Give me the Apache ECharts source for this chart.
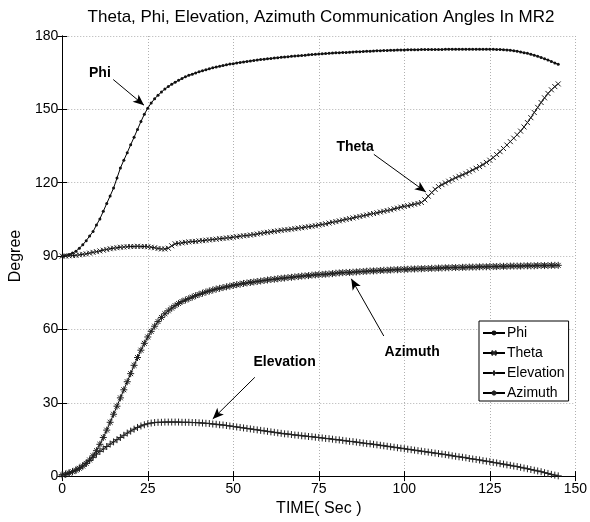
<!DOCTYPE html>
<html>
<head>
<meta charset="utf-8">
<script src="https://cdn.jsdelivr.net/npm/echarts@6/dist/echarts.min.js"></script>
<style>html,body{margin:0;padding:0;background:#fff;}#c{width:590px;height:522px;}</style>
</head>
<body>
<div id="c"></div>
<script>
// Sampling: one sample per second, starting at t = 0 s
const T_START = 0;
const T_STEP = 1;

const seriesNames = ['Phi', 'Theta', 'Elevation', 'Azimuth'];
const xTicks = [0, 25, 50, 75, 100, 125, 150];
const yTicks = [0, 30, 60, 90, 120, 150, 180];

const phi = [
90.0,90.2,90.6,91.2,92.0,93.2,94.6,96.3,98.2,100.0,
102.7,105.2,108.3,111.5,114.6,117.8,121.9,126.0,129.2,132.3,
135.5,138.6,141.8,145.0,148.0,150.5,152.6,154.3,155.8,157.1,
158.3,159.3,160.3,161.1,161.9,162.6,163.3,163.9,164.4,164.9,
165.4,165.8,166.2,166.6,167.0,167.3,167.6,167.9,168.2,168.5,
168.7,169.0,169.2,169.4,169.6,169.8,170.0,170.2,170.4,170.5,
170.7,170.8,171.0,171.1,171.3,171.4,171.5,171.7,171.8,171.9,
172.0,172.1,172.3,172.4,172.5,172.6,172.7,172.8,172.9,173.0,
173.1,173.2,173.3,173.3,173.4,173.5,173.6,173.6,173.7,173.8,
173.8,173.9,174.0,174.0,174.1,174.1,174.2,174.2,174.3,174.3,
174.3,174.4,174.4,174.4,174.4,174.5,174.5,174.5,174.5,174.5,
174.5,174.5,174.6,174.6,174.6,174.6,174.6,174.6,174.6,174.6,
174.6,174.6,174.6,174.6,174.6,174.6,174.6,174.5,174.5,174.4,
174.3,174.2,174.0,173.8,173.5,173.2,172.9,172.5,172.1,171.7,
171.2,170.7,170.2,169.6,169.0,168.4
];

const theta = [
90.0,90.0,90.1,90.2,90.3,90.5,90.7,90.9,91.2,91.5,
91.8,92.1,92.4,92.7,93.0,93.2,93.4,93.6,93.7,93.8,
93.9,93.9,94.0,93.9,93.9,93.8,93.6,93.4,93.1,92.9,
92.9,93.2,94.2,95.0,95.2,95.4,95.6,95.8,95.9,96.0,
96.2,96.3,96.5,96.6,96.8,96.9,97.1,97.2,97.4,97.5,
97.7,97.9,98.1,98.3,98.4,98.6,98.8,99.0,99.3,99.5,
99.7,99.9,100.1,100.3,100.5,100.7,100.8,101.0,101.2,101.4,
101.6,101.8,102.0,102.2,102.4,102.7,102.9,103.2,103.5,103.8,
104.1,104.4,104.7,105.0,105.3,105.6,105.9,106.2,106.5,106.8,
107.1,107.4,107.7,108.0,108.3,108.6,108.9,109.3,109.6,110.0,
110.3,110.6,110.9,111.2,111.5,111.9,113.0,114.5,116.0,117.3,
118.4,119.2,119.9,120.6,121.3,122.0,122.6,123.2,123.8,124.5,
125.2,125.9,126.6,127.4,128.3,129.2,130.3,131.5,132.7,134.0,
135.4,136.8,138.2,139.6,141.1,142.8,144.6,146.6,148.7,150.8,
152.8,154.7,156.5,158.0,159.3,160.4
];

const elevation = [
0.5,0.8,1.2,1.8,2.5,3.3,4.2,5.3,6.4,7.7,
9.0,10.1,11.1,12.1,13.1,14.0,14.9,15.8,16.7,17.6,
18.4,19.2,19.9,20.5,21.0,21.4,21.7,21.9,22.0,22.0,
22.1,22.1,22.1,22.1,22.1,22.0,22.0,22.0,21.9,21.9,
21.8,21.7,21.6,21.5,21.3,21.2,21.0,20.9,20.7,20.5,
20.3,20.1,19.9,19.7,19.5,19.3,19.1,18.9,18.7,18.5,
18.3,18.1,17.9,17.7,17.5,17.3,17.2,17.0,16.8,16.7,
16.5,16.4,16.2,16.1,15.9,15.8,15.6,15.4,15.3,15.1,
14.9,14.8,14.6,14.4,14.2,14.1,13.9,13.7,13.5,13.3,
13.2,13.0,12.8,12.6,12.4,12.2,12.0,11.8,11.6,11.4,
11.2,11.0,10.8,10.6,10.4,10.2,10.0,9.8,9.6,9.4,
9.2,9.0,8.8,8.6,8.3,8.1,7.9,7.7,7.5,7.2,
7.0,6.8,6.6,6.3,6.1,5.9,5.6,5.4,5.1,4.9,
4.6,4.4,4.1,3.9,3.6,3.3,3.0,2.7,2.4,2.1,
1.8,1.4,1.1,0.7,0.4,0.1
];

const azimuth = [
0.5,0.8,1.3,1.8,2.4,3.2,4.1,5.2,6.6,8.3,
10.4,13.0,15.8,18.8,22.0,25.3,28.6,32.0,35.3,38.6,
41.9,45.3,48.5,51.5,54.3,56.9,59.2,61.3,63.2,64.9,
66.4,67.6,68.7,69.7,70.6,71.4,72.0,72.6,73.2,73.8,
74.3,74.8,75.3,75.7,76.1,76.5,76.8,77.1,77.4,77.7,
78.0,78.3,78.5,78.8,79.0,79.2,79.4,79.6,79.8,80.0,
80.2,80.4,80.5,80.7,80.9,81.0,81.2,81.3,81.5,81.6,
81.8,81.9,82.0,82.2,82.3,82.4,82.5,82.6,82.7,82.8,
83.0,83.1,83.2,83.3,83.3,83.4,83.5,83.6,83.7,83.8,
83.9,83.9,84.0,84.1,84.2,84.2,84.3,84.4,84.4,84.5,
84.6,84.6,84.7,84.7,84.8,84.8,84.9,84.9,85.0,85.0,
85.1,85.1,85.2,85.2,85.3,85.3,85.3,85.4,85.4,85.5,
85.5,85.5,85.6,85.6,85.6,85.7,85.7,85.7,85.8,85.8,
85.8,85.9,85.9,85.9,85.9,86.0,86.0,86.0,86.0,86.1,
86.1,86.1,86.1,86.2,86.2,86.2
];

// Annotations (in data coordinates): label position, arrow tail, arrow head
const annotations = [
  {text: 'Phi',       label: [11.0, 165.0], from: [14.9, 162.2], to: [23.9, 151.7]},
  {text: 'Theta',     label: [85.6, 134.6], from: [91.1, 131.6], to: [106.3, 116.2]},
  {text: 'Azimuth',   label: [102.3, 50.6], from: [94.0, 57.3],  to: [84.5, 80.7]},
  {text: 'Elevation', label: [65.0, 46.6],  from: [56.3, 40.4],  to: [44.0, 23.4]}
];

function pairs(arr) {
  return arr.map((v, i) => [T_START + i * T_STEP, v]);
}

const FONT = 'Liberation Sans';
const symX = 'path://M0,0L10,10M10,0L0,10';
const symPlus = 'path://M5,0L5,10M0,5L10,5';
const symStar = 'path://M5,0L5,10M0,5L10,5M1.5,1.5L8.5,8.5M8.5,1.5L1.5,8.5';

const chart = echarts.init(document.getElementById('c'), null, {renderer: 'canvas'});

function mkSeries(name, arr, symbol, size, extra) {
  return Object.assign({
    name: name,
    type: 'line',
    data: pairs(arr),
    symbol: symbol,
    symbolSize: size,
    showSymbol: true,
    showAllSymbol: true,
    animation: false,
    lineStyle: {color: '#000', width: 1},
    itemStyle: {color: symbol === 'circle' ? '#111' : 'none', borderColor: '#222', borderWidth: symbol === 'circle' ? 0 : 1},
    emphasis: {disabled: true},
    z: 3
  }, extra || {});
}

const markLineData = annotations.map(a => [
  {coord: a.from, symbol: 'none'},
  {coord: a.to, symbol: 'arrow', symbolSize: [7, 11]}
]);
const markPointData = annotations.map(a => ({
  coord: a.label, name: a.text, value: a.text
}));

const option = {
  backgroundColor: '#fff',
  animation: false,
  title: {
    text: 'Theta, Phi, Elevation, Azimuth Communication Angles In MR2',
    left: 316, top: 4, textAlign: 'center',
    textStyle: {fontFamily: FONT, fontSize: 17, fontWeight: 'normal', color: '#000'}
  },
  legend: {
    data: seriesNames,
    orient: 'vertical',
    left: 479, top: 321,
    backgroundColor: '#fff',
    borderColor: '#000', borderWidth: 1,
    padding: [5, 4, 1, 3],
    itemWidth: 22, itemHeight: 6, itemGap: 6,
    textStyle: {fontFamily: FONT, fontSize: 14, color: '#000', padding: [0, 0, 0, -3]},
    selectedMode: false
  },
  grid: {left: 56, right: 12, top: 36, bottom: 40, show: false},
  xAxis: [{
    type: 'value', min: 0, max: 150, interval: 25,
    name: 'TIME( Sec )', nameLocation: 'middle', nameGap: 20,
    nameTextStyle: {fontFamily: FONT, fontSize: 16, color: '#000'},
    axisLine: {show: true, lineStyle: {color: '#000', width: 1}},
    axisTick: {show: true, inside: true, length: 5, lineStyle: {color: '#000'}},
    axisLabel: {fontFamily: FONT, fontSize: 14, color: '#000', margin: 6,
      customValues: xTicks},
    splitLine: {show: true, lineStyle: {color: '#b0b0b0', type: [1, 2], width: 1}}
  }, {
    type: 'value', min: 0, max: 150, interval: 25, position: 'top',
    axisLine: {show: true, lineStyle: {color: '#000', width: 1}},
    axisTick: {show: true, inside: true, length: 5, lineStyle: {color: '#000'}},
    axisLabel: {show: false}, splitLine: {show: false}
  }],
  yAxis: [{
    type: 'value', min: 0, max: 180, interval: 30,
    name: 'Degree', nameLocation: 'middle', nameGap: 33,
    nameTextStyle: {fontFamily: FONT, fontSize: 16, color: '#000'},
    axisLine: {show: true, lineStyle: {color: '#000', width: 1}},
    axisTick: {show: true, inside: true, length: 5, lineStyle: {color: '#000'}},
    axisLabel: {fontFamily: FONT, fontSize: 14, color: '#000', margin: 4},
    splitLine: {show: true, lineStyle: {color: '#b0b0b0', type: [1, 2], width: 1}}
  }, {
    type: 'value', min: 0, max: 180, interval: 30, position: 'right',
    axisLine: {show: true, lineStyle: {color: '#000', width: 1}},
    axisTick: {show: true, inside: true, length: 5, lineStyle: {color: '#000'}},
    axisLabel: {show: false}, splitLine: {show: false}
  }],
  series: [
    mkSeries('Phi', phi, 'circle', 3),
    mkSeries('Theta', theta, symX, 5),
    mkSeries('Elevation', elevation, symPlus, 7),
    mkSeries('Azimuth', azimuth, symStar, 7, {
      markLine: {
        silent: true, animation: false,
        symbol: ['none', 'arrow'],
        lineStyle: {color: '#000', width: 1, type: 'solid'},
        label: {show: false},
        emphasis: {disabled: true},
        data: markLineData
      },
      markPoint: {
        silent: true, animation: false,
        symbol: 'circle', symbolSize: 1,
        itemStyle: {color: 'rgba(0,0,0,0)'},
        label: {show: true, position: 'inside', formatter: p => p.name,
          fontFamily: FONT, fontSize: 14, fontWeight: 'bold', color: '#000'},
        data: markPointData
      }
    })
  ]
};
chart.setOption(option);
</script>
</body>
</html>
